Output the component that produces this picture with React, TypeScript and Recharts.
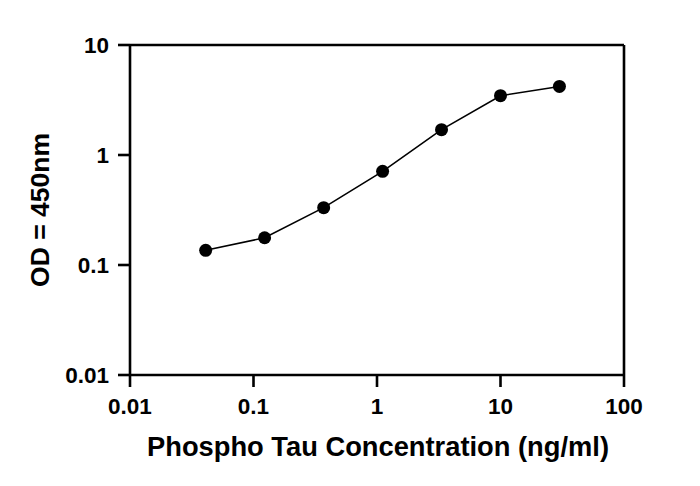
import React from "react";
import {
  LineChart,
  Line,
  XAxis,
  YAxis,
  ReferenceLine,
} from "recharts";

const concentrations = [0.041, 0.123, 0.37, 1.11, 3.33, 10, 30];
const odValues = [0.136, 0.177, 0.332, 0.71, 1.7, 3.46, 4.2];
const xTicks = [0.01, 0.1, 1, 10, 100];
const yTicks = [0.01, 0.1, 1, 10];
const xTitle = "Phospho Tau Concentration (ng/ml)";
const yTitle = "OD = 450nm";

const data = concentrations.map((c, i) => ({ x: c, y: odValues[i] }));

const FONT = "'Liberation Sans', Arial, sans-serif";
const AX = { stroke: "#000", strokeWidth: 2.6 };

const fmt = (v: number) => String(v);

export default function App() {
  return (
    <div style={{ position: "absolute", left: 0, top: 0, background: "#fff" }}>
      <LineChart
        width={700}
        height={486}
        data={data}
        margin={{ top: 45, right: 76, left: 0, bottom: 0 }}
      >
        <XAxis
          dataKey="x"
          type="number"
          scale="log"
          domain={[0.01, 100]}
          ticks={xTicks}
          allowDataOverflow
          tickFormatter={fmt}
          height={111}
          tickSize={12}
          tickMargin={11}
          axisLine={AX}
          tickLine={AX}
          tick={{ fill: "#000", fontSize: 22.5, fontWeight: 700, fontFamily: FONT }}
          label={{
            content: (props: any) => {
              const vb = props.viewBox || {};
              return (
                <text
                  x={vb.x + vb.width / 2 + 1}
                  y={vb.y + 81}
                  textAnchor="middle"
                  fill="#000"
                  fontSize={27.3}
                  fontWeight={700}
                  fontFamily={FONT}
                >
                  {xTitle}
                </text>
              );
            },
          }}
        />
        <YAxis
          dataKey="y"
          type="number"
          scale="log"
          domain={[0.01, 10]}
          ticks={yTicks}
          allowDataOverflow
          tickFormatter={fmt}
          width={130}
          tickSize={12}
          tickMargin={9}
          axisLine={AX}
          tickLine={AX}
          tick={{ fill: "#000", fontSize: 22.5, fontWeight: 700, fontFamily: FONT }}
          label={{
            content: (props: any) => {
              const vb = props.viewBox || {};
              const cx = vb.x + 49;
              const cy = vb.y + vb.height / 2;
              return (
                <text
                  x={cx}
                  y={cy}
                  textAnchor="middle"
                  transform={`rotate(-90, ${cx}, ${cy})`}
                  fill="#000"
                  fontSize={26.5}
                  fontWeight={700}
                  fontFamily={FONT}
                >
                  {yTitle}
                </text>
              );
            },
          }}
        />
        <ReferenceLine y={10} stroke="#000" strokeWidth={2.6} />
        <ReferenceLine x={100} stroke="#000" strokeWidth={2.6} />
        <Line
          dataKey="y"
          type="linear"
          stroke="#000"
          strokeWidth={1.6}
          dot={{ r: 6.5, fill: "#000", stroke: "#000", strokeWidth: 0 }}
          activeDot={false}
          isAnimationActive={false}
        />
      </LineChart>
    </div>
  );
}
